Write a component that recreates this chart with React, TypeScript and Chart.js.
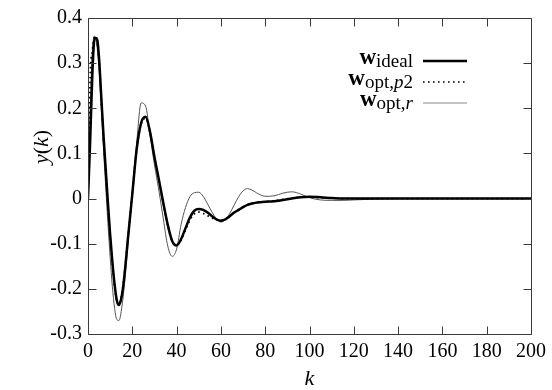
import React, { useEffect, useRef } from "react";
import { Chart, registerables } from "chart.js";

Chart.register(...registerables);

const kValues = [
  0, 1, 2, 3, 4, 5, 6, 7, 8, 9, 10, 11, 12, 13, 14, 15, 16, 17, 18,
  20, 22, 24, 26, 28, 30, 32, 34, 36, 38, 40, 42, 44, 46, 48, 50, 52, 54, 56, 58, 60,
  62, 64, 66, 68, 70, 72, 74, 76, 78, 80, 84, 88, 92, 96, 100, 105, 110, 115, 120,
  130, 140, 150, 160, 180, 200,
];

const idealValues = [
  0, 0.13, 0.28, 0.355, 0.355, 0.31, 0.225, 0.14, 0.065, -0.01, -0.08, -0.14, -0.19, -0.225, -0.236, -0.222, -0.19, -0.143, -0.09,
  0.01, 0.11, 0.168, 0.181, 0.148, 0.092, 0.042, -0.01, -0.058, -0.094, -0.104, -0.09, -0.066, -0.042, -0.027, -0.023, -0.025, -0.031, -0.039, -0.046, -0.049,
  -0.046, -0.039, -0.031, -0.025, -0.019, -0.014, -0.011, -0.009, -0.008, -0.007, -0.006, -0.003, 0.0, 0.003, 0.004, 0.003, 0.001, 0, 0,
  0, 0, 0, 0, 0, 0,
];

const p2Values = [
  0, 0.27, 0.33, 0.358, 0.35, 0.305, 0.22, 0.135, 0.06, -0.015, -0.085, -0.145, -0.195, -0.228, -0.235, -0.218, -0.186, -0.14, -0.088,
  0.012, 0.11, 0.165, 0.178, 0.146, 0.09, 0.04, -0.012, -0.06, -0.095, -0.102, -0.092, -0.07, -0.048, -0.034, -0.03, -0.033, -0.038, -0.043, -0.047, -0.048,
  -0.045, -0.038, -0.031, -0.025, -0.019, -0.014, -0.011, -0.009, -0.008, -0.007, -0.005, -0.002, 0.001, 0.003, 0.003, 0.002, 0.001, 0, 0,
  0, 0, 0, 0, 0, 0,
];

const rValues = [
  0, 0.2, 0.33, 0.36, 0.34, 0.285, 0.2, 0.11, 0.025, -0.055, -0.13, -0.195, -0.243, -0.268, -0.27, -0.25, -0.212, -0.162, -0.105,
  0.015, 0.125, 0.212, 0.205, 0.14, 0.075, 0.018, -0.045, -0.105, -0.128, -0.112, -0.058, -0.02, 0.004, 0.013, 0.014, 0.005, -0.012, -0.03, -0.045, -0.052,
  -0.047, -0.033, -0.014, 0.004, 0.017, 0.022, 0.019, 0.013, 0.008, 0.005, 0.006, 0.012, 0.015, 0.01, 0.002, -0.003, -0.004, -0.004, -0.003,
  -0.001, 0, 0, 0, 0, 0,
];

const xTicks = [0, 20, 40, 60, 80, 100, 120, 140, 160, 180, 200];
const yTicks = [-0.3, -0.2, -0.1, 0, 0.1, 0.2, 0.3, 0.4];

const SERIF = "'Liberation Serif', 'DejaVu Serif', serif";
const BORDER = "#3a3a3a";

type Part = { t: string; f: string; dy: number };

function drawParts(ctx: CanvasRenderingContext2D, parts: Part[], right: number, baseline: number) {
  let total = 0;
  for (const p of parts) {
    ctx.font = p.f;
    total += ctx.measureText(p.t).width;
  }
  let x = right - total;
  ctx.textAlign = "left";
  ctx.textBaseline = "alphabetic";
  for (const p of parts) {
    ctx.font = p.f;
    ctx.fillText(p.t, x, baseline + p.dy);
    x += ctx.measureText(p.t).width;
  }
}

const decorPlugin = {
  id: "decor",
  afterDraw(chart: any) {
    const { ctx, chartArea: ca, scales } = chart;
    const xs = scales.x;
    const ys = scales.y;
    ctx.save();
    // border
    ctx.strokeStyle = BORDER;
    ctx.lineWidth = 1;
    const L = Math.round(ca.left) + 0.5;
    const R = Math.round(ca.right) + 0.5;
    const T = Math.round(ca.top) + 0.5;
    const B = Math.round(ca.bottom) + 0.5;
    ctx.beginPath();
    ctx.rect(L, T, R - L, B - T);
    ctx.stroke();
    // inward ticks
    const TL = 8;
    ctx.beginPath();
    for (const v of xTicks) {
      const px = Math.round(xs.getPixelForValue(v)) + 0.5;
      ctx.moveTo(px, B);
      ctx.lineTo(px, B - TL);
      ctx.moveTo(px, T);
      ctx.lineTo(px, T + TL);
    }
    for (const v of yTicks) {
      const py = Math.round(ys.getPixelForValue(v)) + 0.5;
      ctx.moveTo(L, py);
      ctx.lineTo(L + TL, py);
      ctx.moveTo(R, py);
      ctx.lineTo(R - TL, py);
    }
    ctx.stroke();

    // axis titles
    ctx.fillStyle = "#000";
    ctx.save();
    ctx.translate(41, 147);
    ctx.rotate(-Math.PI / 2);
    ctx.textBaseline = "middle";
    const yParts: Part[] = [
      { t: "y", f: `italic 22px ${SERIF}`, dy: 0 },
      { t: "(", f: `22px ${SERIF}`, dy: 0 },
      { t: "k", f: `italic 22px ${SERIF}`, dy: 0 },
      { t: ")", f: `22px ${SERIF}`, dy: 0 },
    ];
    let tw = 0;
    for (const p of yParts) { ctx.font = p.f; tw += ctx.measureText(p.t).width; }
    drawParts(ctx, yParts, tw / 2, 7);
    ctx.restore();

    ctx.font = `italic 22px ${SERIF}`;
    ctx.textAlign = "center";
    ctx.textBaseline = "alphabetic";
    ctx.fillText("k", (ca.left + ca.right) / 2, 385);

    // legend
    const textRight = 413;
    const lx0 = 423;
    const lx1 = 467;
    const wF = `bold 23px ${SERIF}`;
    const sF = `19px ${SERIF}`;
    const siF = `italic 19px ${SERIF}`;
    const rows: { parts: Part[]; y: number }[] = [
      { parts: [{ t: "w", f: wF, dy: 0 }, { t: "ideal", f: sF, dy: 3 }], y: 61 },
      { parts: [{ t: "w", f: wF, dy: 0 }, { t: "opt,", f: sF, dy: 3 }, { t: "p", f: siF, dy: 3 }, { t: "2", f: sF, dy: 3 }], y: 82 },
      { parts: [{ t: "w", f: wF, dy: 0 }, { t: "opt,", f: sF, dy: 3 }, { t: "r", f: siF, dy: 3 }], y: 103 },
    ];
    rows.forEach((row) => drawParts(ctx, row.parts, textRight, row.y + 3));

    ctx.beginPath();
    ctx.strokeStyle = "#000";
    ctx.lineWidth = 2.5;
    ctx.moveTo(lx0, 61);
    ctx.lineTo(lx1, 61);
    ctx.stroke();

    ctx.beginPath();
    ctx.lineWidth = 1.6;
    ctx.setLineDash([1.6, 3.4]);
    ctx.moveTo(lx0, 82);
    ctx.lineTo(lx1, 82);
    ctx.stroke();
    ctx.setLineDash([]);

    ctx.beginPath();
    ctx.strokeStyle = "#8a8a8a";
    ctx.lineWidth = 1.2;
    ctx.moveTo(lx0, 103);
    ctx.lineTo(lx1, 103);
    ctx.stroke();

    ctx.restore();
  },
};

function toXY(vals: number[]) {
  return kValues.map((k, i) => ({ x: k, y: vals[i] }));
}

export default function App() {
  const ref = useRef<HTMLCanvasElement | null>(null);

  useEffect(() => {
    document.body.style.margin = "0";
    const canvas = ref.current;
    if (!canvas) return;
    const chart = new Chart(canvas, {
      type: "line",
      data: {
        datasets: [
          {
            label: "w_opt,p2",
            data: toXY(p2Values),
            borderColor: "#000",
            borderWidth: 1.8,
            borderDash: [1.6, 3.4],
            pointRadius: 0,
            cubicInterpolationMode: "monotone",
            order: 0,
          },
          {
            label: "w_ideal",
            data: toXY(idealValues),
            borderColor: "#000",
            borderWidth: 2.5,
            pointRadius: 0,
            cubicInterpolationMode: "monotone",
            order: 1,
          },
          {
            label: "w_opt,r",
            data: toXY(rValues),
            borderColor: "#555",
            borderWidth: 1,
            pointRadius: 0,
            cubicInterpolationMode: "monotone",
            order: 2,
          },
        ],
      },
      options: {
        animation: false,
        responsive: false,
        devicePixelRatio: 1,
        layout: { padding: { left: 0, right: 16, top: 18, bottom: 0 } },
        plugins: {
          legend: { display: false },
          tooltip: { enabled: false },
        },
        scales: {
          x: {
            type: "linear",
            min: 0,
            max: 200,
            afterBuildTicks: (scale: any) => {
              scale.ticks = xTicks.map((v) => ({ value: v }));
            },
            afterFit: (scale: any) => {
              scale.height = 56;
            },
            grid: { display: false, drawTicks: false },
            border: { display: false },
            ticks: {
              padding: 6,
              color: "#000",
              font: { family: SERIF, size: 20 },
              maxRotation: 0,
              autoSkip: false,
            },
          },
          y: {
            type: "linear",
            min: -0.3,
            max: 0.4,
            afterBuildTicks: (scale: any) => {
              scale.ticks = yTicks.map((v) => ({ value: v }));
            },
            afterFit: (scale: any) => {
              scale.width = 88;
            },
            grid: { display: false, drawTicks: false },
            border: { display: false },
            ticks: {
              padding: 6,
              color: "#000",
              font: { family: SERIF, size: 20 },
              autoSkip: false,
              callback: (v: any) => {
                const n = Math.round(Number(v) * 10) / 10;
                return n === 0 ? "0" : String(n);
              },
            },
          },
        },
      },
      plugins: [decorPlugin],
    });
    return () => chart.destroy();
  }, []);

  return (
    <div style={{ position: "fixed", left: 0, top: 0, width: 552, height: 390, background: "#fff" }}>
      <canvas ref={ref} width={552} height={390} style={{ width: 552, height: 390, display: "block" }} />
    </div>
  );
}
